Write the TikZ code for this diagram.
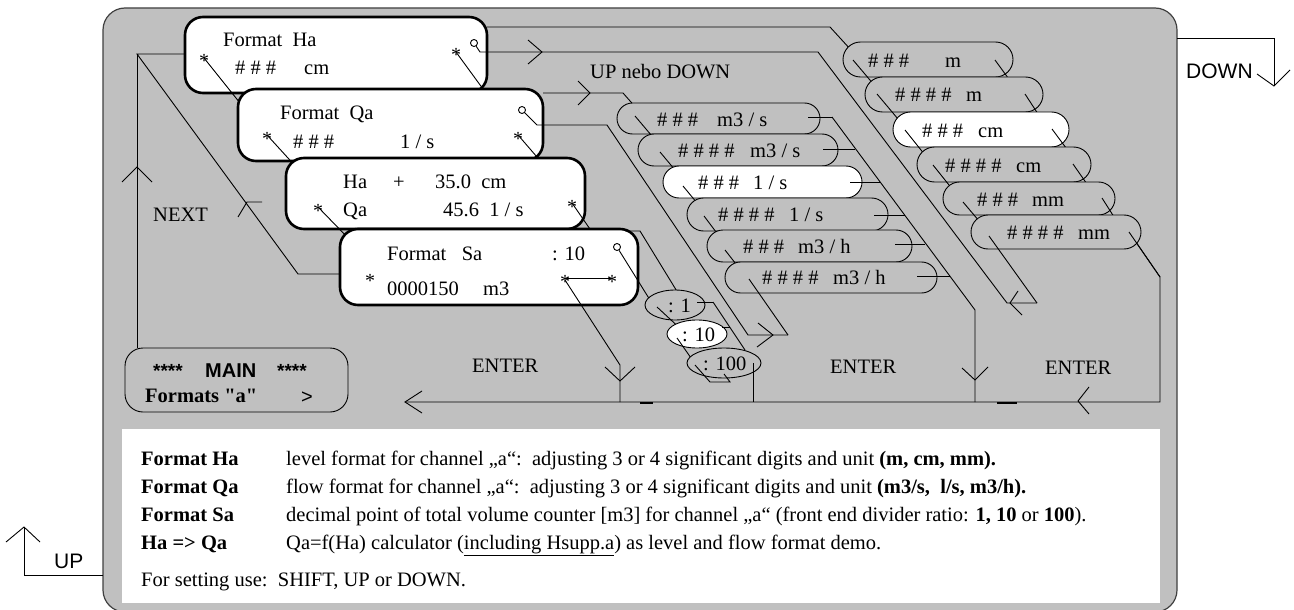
\documentclass[tikz,border=0pt]{standalone}
\usepackage{fontspec}
\setmainfont{Liberation Serif}[Ligatures=TeXOff]
\setsansfont{Liberation Sans}
\usetikzlibrary{shapes.misc,shapes.geometric}
\definecolor{pgray}{HTML}{C0C0C0}
\definecolor{edgegray}{HTML}{404040}
\newcommand\fs{\fontsize{20.5}{24}\selectfont}
\begin{document}
\begin{tikzpicture}[x=1pt,y=-1pt,
 ln/.style={line width=0.9pt, draw=black},
 dbox/.style={draw=black, line width=2.6pt, fill=white, rounded corners=18pt, inner sep=0pt},
 pg/.style={rounded rectangle, draw=black, line width=0.9pt, fill=pgray, inner sep=0pt},
 pw/.style={pg, fill=white},
 eg/.style={ellipse, draw=black, line width=0.9pt, fill=pgray, inner sep=0pt},
 ew/.style={eg, fill=white},
 tx/.style={anchor=base west, inner sep=0pt, font=\fs},
 ast/.style={anchor=base, inner sep=0pt, font=\fontsize{20}{20}\selectfont},
 oo/.style={circle, draw=black, line width=0.9pt, inner sep=0pt, minimum size=7pt, fill=white},
 sx/.style={anchor=base west, inner sep=0pt, font=\sffamily\fontsize{21}{21}\selectfont}]
\useasboundingbox (0,0) rectangle (1294,610);
% panel
\draw[fill=pgray, draw=edgegray, line width=1.2pt, rounded corners=22pt] (103,8) rectangle (1177,612);
\fill[white] (122,429) rectangle (1160,603);
% DOWN / UP
\draw[ln] (1177,38) -- (1274,38) -- (1274,86);
\draw[ln] (1257,74) -- (1274,86) -- (1290,70);
\node[sx] (down) at (1186,78) {DOWN};
\draw[ln] (103,575) -- (24,575) -- (24,527);
\draw[ln] (6,542) -- (24,527) -- (40,542);
\node[sx] (up) at (54,568) {UP};
% NEXT loop and MAIN
\draw[ln] (137,54) -- (137,348);
\draw[ln] (122,182) -- (137,167) -- (152,182);
\draw[ln] (370,274) -- (298,274) -- (137,54) -- (186,54);
\draw[ln] (238,217) -- (247,202) -- (262,202);
\node[tx] (next) at (153,221) {NEXT};
\node[draw=black, line width=0.9pt, fill=pgray, rounded corners=18pt, minimum width=223pt, minimum height=64pt, inner sep=0pt] (main) at (236.5,380) {};
\node[anchor=base west, inner sep=0pt, font=\sffamily\bfseries\fontsize{19}{19}\selectfont] (m1) at (153,377) {****};
\node[anchor=base west, inner sep=0pt, font=\sffamily\bfseries\fontsize{20}{20}\selectfont] (m2) at (205,377) {MAIN};
\node[anchor=base west, inner sep=0pt, font=\sffamily\bfseries\fontsize{19}{19}\selectfont] (m3) at (277,377) {****};
\node[anchor=base west, inner sep=0pt, font=\bfseries\fs] (m4) at (145,402) {Formats "a"};
\node[anchor=base west, inner sep=0pt, font=\sffamily\fontsize{20}{20}\selectfont] (m5) at (301,403) {>};
% ---------- Box Ha
\node[dbox, minimum width=302pt, minimum height=76pt] (b1) at (336,55) {};
\node[tx] (b1a) at (223,47) {Format\ \ Ha};
\node[tx] (b1b) at (235,75) {\# \# \#};
\node[tx] (b1c) at (304,75) {cm};
\node[ast] (s1l) at (204,68) {*};
\node[ast] (s1r) at (456,62) {*};
\node[oo] (o1) at (474,43) {};
\draw[ln] (204,58) -- (244,108);
\draw[ln] (456,52) -- (483,89);
% Ha top entry and wrap
\draw[ln] (487,27) -- (830,27) -- (851,50);
\draw[ln] (o1) -- (480,52) -- (818,52) -- (1007,303) -- (1037,303);
\draw[ln] (528,40) -- (542,52) -- (528,64);
\draw[ln] (1018,291) -- (1010,303) -- (1022,315);
% ---------- Box Qa
\node[dbox, minimum width=305pt, minimum height=72pt] (b2) at (390.5,125) {};
\node[tx] (b2a) at (280,120) {Format\ \ Qa};
\node[tx] (b2b) at (293,148) {\# \# \#};
\node[tx] (b2c) at (400,148) {1 / s};
\node[ast] (s2l) at (267,145) {*};
\node[ast] (s2r) at (518,145) {*};
\node[oo] (o2) at (522,110) {};
\draw[ln] (267,135) -- (298,169);
\draw[ln] (518,135) -- (537,157);
% Qa top entry, wrap, right chain
\draw[ln] (543,93) -- (623,93) -- (638,110);
\draw[ln] (578,81) -- (590,93) -- (578,105);
\draw[ln] (o2) -- (537,125) -- (607,125) -- (748,335) -- (788,335);
\draw[ln] (758,323) -- (773,335) -- (757,347);
\draw[ln] (832,117) -- (975,310) -- (975,402);
\draw[ln] (962,368) -- (975,380) -- (988,367);
% ---------- Box Ha + Qa
\node[dbox, minimum width=299pt, minimum height=71pt] (b3) at (435.5,193.5) {};
\node[tx] (b3a) at (343,188) {Ha};
\node[tx] (b3b) at (393,188) {+};
\node[tx] (b3c) at (435,188) {35.0\ \ cm};
\node[tx] (b3d) at (343,216) {Qa};
\node[tx] (b3e) at (443,216) {45.6\ \ 1 / s};
\node[ast] (s3l) at (318,217) {*};
\node[ast] (s3r) at (572,213) {*};
\draw[ln] (318,207) -- (350,240);
\draw[ln] (572,203) -- (592,232);
% ---------- Box Sa
\node[dbox, minimum width=298pt, minimum height=76pt] (b4) at (489,267) {};
\node[tx] (b4a) at (387,260) {Format\ \ \ Sa};
\node[tx] (b4b) at (552,260) {: 10};
\node[tx] (b4c) at (387,295) {0000150};
\node[tx] (b4d) at (483,295) {m3};
\node[ast] (s4l) at (370,287) {*};
\node[ast] (s4a) at (565,288) {*};
\node[ast] (s4b) at (612,288) {*};
\node[oo] (o4) at (617,247) {};
\draw[ln] (565,278) -- (612,278);
\draw[ln] (565,280) -- (620,365) -- (620,402);
\draw[ln] (605,367) -- (620,381) -- (635,367);
\draw[ln] (o4) -- (650,300);
\draw[ln] (625,231) -- (640,231) -- (678,293);
% bottom return line
\draw[ln] (1129,232) -- (1160,277) -- (1160,402) -- (405,402);
\draw[ln] (1089,387) -- (1078,401) -- (1089,414);
\draw[ln] (422,391) -- (405,402) -- (422,413);
\draw[line width=2pt] (640,402.5) -- (653,402.5);
\draw[line width=2pt] (997,402.5) -- (1017,402.5);
\draw[ln] (753,363) -- (753,402);
\draw[ln] (713,302) -- (745,350);
% ---------- Sa list
\node[eg, minimum width=60pt, minimum height=30pt] (e1) at (675,305) {};
\node[tx] (e1t) at (668,312) {: 1};
\draw[ln] (697,302) -- (713,302);
\draw[ln] (657,307) -- (684,332);
\node[ew, minimum width=60pt, minimum height=28pt] (e2) at (697,334) {};
\node[tx] (e2t) at (682,341) {: 10};
\draw[ln] (722,327) -- (730,327);
\draw[ln] (677,338) -- (691,358);
\node[eg, minimum width=74pt, minimum height=30pt] (e3) at (724,363) {};
\node[tx] (e3t) at (703,370) {: 100};
\draw[ln] (753,363) -- (753,378);
\draw[ln] (695,365) -- (710,382) -- (730,382) -- (724,374);
% ---------- Qa list
\node[pg, minimum width=203pt, minimum height=31pt] (p1) at (718.5,118.5) {};
\node[tx] (p1a) at (657,126) {\# \# \#};
\node[tx] (p1b) at (717,126) {m3 / s};
\draw[ln] (635,116) -- (657,142);
\draw[ln] (808,117) -- (832,117);
\node[pg, minimum width=200pt, minimum height=32pt] (p2) at (738,150) {};
\node[tx] (p2a) at (678,157) {\# \# \# \#};
\node[tx] (p2b) at (750,157) {m3 / s};
\draw[ln] (660,152) -- (680,176);
\draw[ln] (823,149) -- (855,149);
\node[pw, minimum width=199pt, minimum height=32pt] (p3) at (762.5,182) {};
\node[tx] (p3a) at (698,189) {\# \# \#};
\node[tx] (p3b) at (753,189) {1 / s};
\draw[ln] (683,186) -- (702,209);
\draw[ln] (850,182) -- (880,182);
\node[pg, minimum width=201pt, minimum height=33pt] (p4) at (787.5,214.5) {};
\node[tx] (p4a) at (718,221) {\# \# \# \#};
\node[tx] (p4b) at (789,221) {1 / s};
\draw[ln] (704,216) -- (722,240);
\draw[ln] (874,215) -- (905,215);
\node[pg, minimum width=205pt, minimum height=32pt] (p5) at (809.5,246) {};
\node[tx] (p5a) at (743,253) {\# \# \#};
\node[tx] (p5b) at (798,253) {m3 / h};
\draw[ln] (725,250) -- (743,273);
\draw[ln] (895,244) -- (925,244);
\node[pg, minimum width=212pt, minimum height=31pt] (p6) at (831,277.5) {};
\node[tx] (p6a) at (762,284) {\# \# \# \#};
\node[tx] (p6b) at (833,284) {m3 / h};
\draw[ln] (749,279) -- (788,335);
\draw[ln] (917,276) -- (950,276);
% ---------- Ha list
\node[pg, minimum width=170pt, minimum height=35pt] (h1) at (928,59.5) {};
\node[tx] (h1a) at (868,67) {\# \# \#};
\node[tx] (h1b) at (945,67) {m};
\draw[ln] (853,60) -- (875,86);
\draw[ln] (995,60) -- (1011,82);
\node[pg, minimum width=178pt, minimum height=35pt] (h2) at (954,94.5) {};
\node[tx] (h2a) at (895,102) {\# \# \# \#};
\node[tx] (h2b) at (966,102) {m};
\draw[ln] (877,94) -- (898,119);
\draw[ln] (1025,94) -- (1040,117);
\node[pw, minimum width=176pt, minimum height=35pt] (h3) at (981,129.5) {};
\node[tx] (h3a) at (922,137) {\# \# \#};
\node[tx] (h3b) at (978,137) {cm};
\draw[ln] (905,130) -- (925,155);
\draw[ln] (1052,129) -- (1069,152);
\node[pg, minimum width=174pt, minimum height=35pt] (h4) at (1004,164.5) {};
\node[tx] (h4a) at (945,172) {\# \# \# \#};
\node[tx] (h4b) at (1016,172) {cm};
\draw[ln] (933,165) -- (953,190);
\draw[ln] (1073,164) -- (1089,187);
\node[pg, minimum width=172pt, minimum height=33pt] (h5) at (1029,198.5) {};
\node[tx] (h5a) at (977,206) {\# \# \#};
\node[tx] (h5b) at (1032,206) {mm};
\draw[ln] (963,202) -- (985,228);
\draw[ln] (1102,198) -- (1116,220);
\node[pg, minimum width=170pt, minimum height=34pt] (h6) at (1056,232) {};
\node[tx] (h6a) at (1007,239) {\# \# \# \#};
\node[tx] (h6b) at (1078,239) {mm};
\draw[ln] (989,236) -- (1037,303);
\draw[ln] (1129,232) -- (1160,277);
% labels
\node[tx] (updown) at (590,78) {UP nebo DOWN};
\node[tx] (en1) at (472,372) {ENTER};
\node[tx] (en2) at (830,373) {ENTER};
\node[tx] (en3) at (1045,374) {ENTER};
% explanation
\node[tx, font=\bfseries\fs] (k1) at (141,465) {Format Ha};
\node[tx] (d1) at (286,465) {level format for channel „a“:\ \ adjusting 3 or 4 significant digits and unit \textbf{(m, cm, mm).}};
\node[tx, font=\bfseries\fs] (k2) at (141,493) {Format Qa};
\node[tx] (d2) at (286,493) {flow format for channel „a“:\ \ adjusting 3 or 4 significant digits and unit \textbf{(m3/s,\ \ l/s, m3/h).}};
\node[tx, font=\bfseries\fs] (k3) at (141,521) {Format Sa};
\node[tx] (d3) at (286,521) {decimal point of total volume counter [m3] for channel „a“ (front end divider ratio: \textbf{1, 10} or \textbf{100}).};
\node[tx, font=\bfseries\fs] (k4) at (141,549) {Ha => Qa};
\node[tx] (d4) at (286,549) {Qa=f(Ha) calculator (\underline{including Hsupp.a}) as level and flow format demo.};
\node[tx] (d5) at (141,586) {For setting use:\ \ SHIFT, UP or DOWN.};
\end{tikzpicture}
\end{document}
